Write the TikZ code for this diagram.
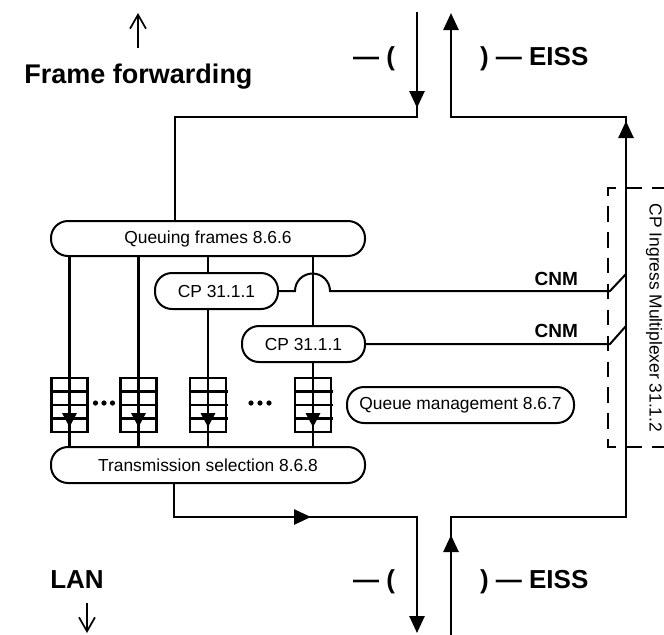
\documentclass[tikz,border=0pt]{standalone}
\usepackage{fontspec}
\setmainfont{Liberation Sans}
\usetikzlibrary{arrows.meta,calc}
\begin{document}
\begin{tikzpicture}[x=0.5pt,y=-0.5pt,
  every node/.style={inner sep=0pt, outer sep=0pt},
  wire/.style={line width=1.3pt},
  cnm/.style={line width=1pt},
  qline/.style={line width=1.15pt},
  pill/.style={draw, line width=1pt, rounded corners=8.5pt, minimum height=18pt,
    font=\fontsize{8.7}{10.4}\selectfont},
  small/.style={font=\fontsize{8.7}{10.4}\selectfont},
  big/.style={font=\fontsize{13}{15.6}\selectfont\bfseries},
  bigger/.style={font=\fontsize{13.5}{16.2}\selectfont\bfseries},
  cnmlabel/.style={font=\fontsize{9.5}{11.4}\selectfont\bfseries},
  bigtip/.style={-{Triangle[length=8.5pt,width=7.5pt]}},
  thinarrow/.style={line width=0.85pt, -{Straight Barb[length=7pt,width=8pt]}},
  queue/.style={draw, line width=1.15pt, minimum width=18pt, minimum height=27pt},
  dashbox/.style={line width=1.1pt, dash pattern=on 7.75pt off 5.2pt, dash phase=1.275pt},
]
\useasboundingbox (0,0) rectangle (664,634);

% ---------- labels ----------
\node[bigger, anchor=base] (ff) at (138.5,83) {Frame forwarding};
\node[big, anchor=base east] (lp1) at (395,65) {— (};
\node[big, anchor=base west] (rp1) at (480,65) {) — EISS};
\node[big, anchor=base] (lan) at (77,588) {LAN};
\node[big, anchor=base east] (lp2) at (395,588) {— (};
\node[big, anchor=base west] (rp2) at (480,588) {) — EISS};

\coordinate (ffAb) at (138,48);
\coordinate (ffAt) at (138,13);
\draw[thinarrow] (ffAb) -- (ffAt);
\coordinate (lanAt) at (87,603);
\coordinate (lanAb) at (87,633);
\draw[thinarrow] (lanAt) -- (lanAb);

% ---------- boxes ----------
\node[pill, minimum width=157pt, minimum height=17.5pt] (qf) at (208,238.5) {Queuing frames 8.6.6};
\node[pill, minimum width=61.5pt] (cp1) at (216.5,291) {CP 31.1.1};
\node[pill, minimum width=61.5pt] (cp2) at (303.5,344) {CP 31.1.1};
\node[pill, minimum width=113.5pt] (qm) at (460.5,405) {Queue management 8.6.7};
\node[pill, minimum width=157pt] (ts) at (208,465) {Transmission selection 8.6.8};

% ---------- queues ----------
\node[queue] (q1) at (69.5,405) {};
\node[queue] (q2) at (138.5,405) {};
\node[queue] (q3) at (208,405) {};
\node[queue] (q4) at (313,405) {};

\draw[wire] (qf.south -| q1) -- (ts.north -| q1);
\draw[wire] (qf.south -| q2) -- (ts.north -| q2);
\draw[wire] (qf.south -| q3) -- (cp1.north -| q3);
\draw[wire] (cp1.south -| q3) -- (ts.north -| q3);
\draw[wire] (qf.south -| q4) -- (cp2.north -| q4);
\draw[wire] (cp2.south -| q4) -- (ts.north -| q4);

\foreach \n in {q1,q2,q3,q4} {
  \foreach \dy in {13.5,27,40.5}
    \draw[qline] ($(\n.north west)+(-1.5,\dy)$) -- ($(\n.north east)+(1.5,\dy)$);
  \fill ($(\n.south)+(-7.5,-19)$) -- ($(\n.south)+(7.5,-19)$) -- ($(\n.south)+(0,-5)$) -- cycle;
}

\foreach \dx in {95.5,104,112.5} \fill (\dx,403) circle (1.3pt);
\foreach \dx in {251,260,269} \fill (\dx,403) circle (1.3pt);

% ---------- main paths ----------
\coordinate (tinTop) at (417,12);
\coordinate (tinCorner) at (417,117);
\coordinate (tinTip) at (417,108);
\coordinate (ffCorner) at (175,117);
\draw[wire] (tinTop) -- (tinCorner) -- (ffCorner) -- (ffCorner |- qf.north);
\draw[wire, bigtip] (tinTop) -- (tinTip);

\coordinate (toutTop) at (451,13);
\coordinate (toutCorner) at (451,117);
\coordinate (rTop) at (626,117);
\coordinate (rBot) at (626,517);
\coordinate (rTip) at (626,121);
\coordinate (binCorner) at (451,517);
\coordinate (binBot) at (451,636);
\coordinate (binTip) at (451,535);
\draw[wire, bigtip] (binBot) -- (binCorner) -- (rBot) -- (rTop) -- (toutCorner) -- (toutTop);
\draw[wire, bigtip] (binBot) -- (binTip);
\draw[wire, bigtip] (rBot) -- (rTip);

\coordinate (tsOut) at (174,517);
\coordinate (boutCorner) at (417,517);
\coordinate (boutBot) at (417,633);
\coordinate (boutTip) at (311,517);
\draw[wire, bigtip] (ts.south -| tsOut) -- (tsOut) -- (boutCorner) -- (boutBot);
\draw[wire, bigtip] (tsOut) -- (boutTip);

% ---------- CNM lines ----------
\coordinate (swx) at (610,0);
\draw[cnm] (cp1.east) -- ++(17,0) arc[start angle=180, end angle=0, radius=8.75pt]
  -- (cp1.east -| swx) -- ++(16,-17);
\draw[cnm] (cp2.east) -- (cp2.east -| swx) -- ++(16,-18);
\node[cnmlabel, anchor=base east] (cnm1) at (578,285) {CNM};
\node[cnmlabel, anchor=base east] (cnm2) at (578,337) {CNM};

% ---------- multiplexer ----------
\coordinate (db1) at (665,188);
\coordinate (db2) at (608,188);
\coordinate (db3) at (608,447);
\coordinate (db4) at (665,447);
\draw[dashbox] (db1) -- (db2) -- (db3) -- (db4);
\node[small, rotate=-90] (cpim) at (654,318) {CP Ingress Multiplexer 31.1.2};
\end{tikzpicture}
\end{document}
